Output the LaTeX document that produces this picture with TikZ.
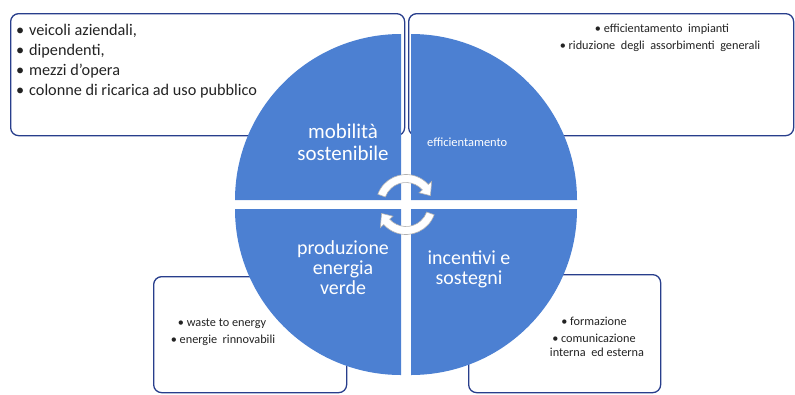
\documentclass[tikz,border=0pt]{standalone}
\usepackage{fontspec}
\setmainfont{Carlito}
\usetikzlibrary{calc}
\definecolor{quadblue}{RGB}{76,128,210}
\definecolor{boxline}{RGB}{40,62,140}
\definecolor{txt}{RGB}{35,35,35}
\begin{document}
\begin{tikzpicture}[x=1bp,y=-1bp,
  box/.style={draw=boxline, line width=1.3bp, fill=white, rounded corners=8bp, inner sep=0pt},
  quad/.style={fill=quadblue},
  cyc/.style={fill=white, draw=black!30, line width=0.6bp},
  listtxt/.style={anchor=base west, inner sep=0pt, text=txt, font=\fontsize{16.3}{20}\selectfont},
  smalltxt/.style={anchor=base, inner sep=0pt, text=txt, font=\fontsize{12.3}{14}\selectfont},
  midtxt/.style={anchor=base west, inner sep=0pt, text=white, font=\fontsize{12.5}{14}\selectfont},
  bigtxt/.style={anchor=base, inner sep=0pt, text=white, font=\fontsize{20}{22}\selectfont},
]
\useasboundingbox (0,0) rectangle (795,394);

% boxes
\node[box, anchor=north west, minimum width=394bp, minimum height=122bp] (tlbox) at (10,13) {};
\node[box, anchor=north west, minimum width=385bp, minimum height=122bp] (trbox) at (408,13) {};
\node[box, anchor=north west, minimum width=193bp, minimum height=116bp] (blbox) at (153,276) {};
\node[box, anchor=north west, minimum width=192bp, minimum height=118bp] (brbox) at (468,274) {};

% box texts
\node[listtxt] (tl1) at (16,35) {\makebox[13bp][l]{•}veicoli aziendali,};
\node[listtxt] (tl2) at (16,55) {\makebox[13bp][l]{•}dipendenti,};
\node[listtxt] (tl3) at (16,75) {\makebox[13bp][l]{•}mezzi d'opera};
\node[listtxt] (tl4) at (16,95) {\makebox[13bp][l]{•}colonne di ricarica ad uso pubblico};

\node[smalltxt] (tr1) at (662,32) {• efficientamento \ impianti};
\node[smalltxt] (tr2) at (660,49) {• riduzione \ degli \ assorbimenti \ generali};

\node[smalltxt] (bl1) at (222,326) {• waste to energy};
\node[smalltxt] (bl2) at (223,343) {• energie \ rinnovabili};

\node[smalltxt] (br1) at (594,325) {• formazione};
\node[smalltxt] (br2) at (594,342) {• comunicazione};
\node[smalltxt] (br3) at (597,356) {interna \ ed esterna};

% quadrants
\fill[quad] (401,200) -- ++(-166,0) arc[start angle=180, end angle=270, radius=166] -- cycle;
\fill[quad] (411,200) -- ++(0,-166) arc[start angle=270, end angle=360, radius=166] -- cycle;
\fill[quad] (411,209) -- ++(166,0) arc[start angle=0, end angle=90, radius=166] -- cycle;
\fill[quad] (401,209) -- ++(0,166) arc[start angle=90, end angle=180, radius=166] -- cycle;

% quadrant labels
\node[bigtxt, font=\fontsize{21}{22}\selectfont] (mob1) at (343,138) {mobilità};
\node[bigtxt, font=\fontsize{21}{22}\selectfont] (mob2) at (343,160) {sostenibile};
\node[midtxt] (eff) at (427,146) {efficientamento};
\node[bigtxt] (prod1) at (343,254) {produzione};
\node[bigtxt] (prod2) at (343,274) {energia};
\node[bigtxt] (prod3) at (343,294) {verde};
\node[bigtxt] (inc1) at (469,264) {incentivi e};
\node[bigtxt] (inc2) at (469,284) {sostegni};

% cycle arrows
\coordinate (cc) at (406,204.5);
\path[cyc] ($(cc)+(200:30)$) arc[start angle=200, end angle=318, radius=30]
  -- ($(cc)+(318:34.5)$) -- ($(cc)+(340:26)$) -- ($(cc)+(318:17.5)$)
  -- ($(cc)+(318:22)$) arc[start angle=318, end angle=200, radius=22] -- cycle;
\path[cyc] ($(cc)+(20:30)$) arc[start angle=20, end angle=138, radius=30]
  -- ($(cc)+(138:34.5)$) -- ($(cc)+(160:26)$) -- ($(cc)+(138:17.5)$)
  -- ($(cc)+(138:22)$) arc[start angle=138, end angle=20, radius=22] -- cycle;
\end{tikzpicture}
\end{document}
